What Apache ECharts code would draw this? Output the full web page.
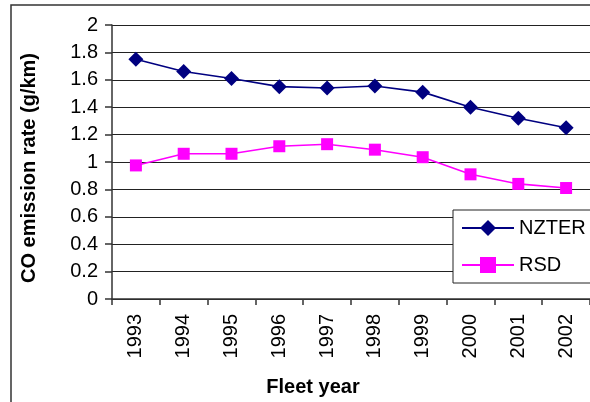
<!DOCTYPE html>
<html>
<head>
<meta charset="utf-8">
<script src="https://cdn.jsdelivr.net/npm/echarts@6/dist/echarts.min.js"></script>
<style>
  html, body { margin: 0; padding: 0; background: #fff; }
  #chart { width: 590px; height: 402px; }
</style>
</head>
<body>
<div id="chart"></div>
<script>
// Fleet years on the category axis
const years = ['1993', '1994', '1995', '1996', '1997', '1998', '1999', '2000', '2001', '2002'];
// CO emission rate (g/km) by fleet year
const nzter = [1.75, 1.66, 1.61, 1.55, 1.54, 1.555, 1.51, 1.40, 1.32, 1.25];
const rsd = [0.975, 1.06, 1.06, 1.115, 1.13, 1.09, 1.035, 0.91, 0.84, 0.81];
// Value-axis tick labels
const yTicks = ['0', '0.2', '0.4', '0.6', '0.8', '1', '1.2', '1.4', '1.6', '1.8', '2'];

const FONT = '"Liberation Sans", Arial, sans-serif';
const chart = echarts.init(document.getElementById('chart'), null, { renderer: 'canvas' });

chart.setOption({
  animation: false,
  backgroundColor: '#fff',
  textStyle: { fontFamily: FONT },
  graphic: [{
    type: 'rect',
    shape: { x: 11, y: 5, width: 620, height: 420 },
    style: { fill: 'none', stroke: '#333', lineWidth: 1.5 },
    silent: true,
    z: -1
  }],
  grid: { left: 112, top: 25, width: 482, height: 280, containLabel: false },
  legend: {
    orient: 'vertical',
    left: 453,
    top: 210,
    padding: [8, 10, 8, 8],
    itemWidth: 52,
    itemHeight: 20,
    itemGap: 17,
    backgroundColor: '#fff',
    borderColor: '#222',
    borderWidth: 1,
    textStyle: { fontFamily: FONT, fontSize: 20, color: '#000' },
    data: ['NZTER', 'RSD']
  },
  xAxis: {
    type: 'category',
    data: years,
    boundaryGap: true,
    name: 'Fleet year',
    nameLocation: 'middle',
    nameGap: 78,
    nameTextStyle: { fontFamily: FONT, fontSize: 20, fontWeight: 'bold', color: '#000', padding: [0, 76, 0, 0] },
    axisLine: { lineStyle: { color: '#333', width: 1.5 } },
    axisTick: { show: true, alignWithLabel: false, length: 6, lineStyle: { color: '#333', width: 1.5 } },
    axisLabel: { rotate: 90, fontSize: 20, color: '#000', margin: 15, fontFamily: FONT },
    splitLine: { show: false }
  },
  yAxis: {
    type: 'value',
    min: 0,
    max: 2,
    interval: 0.2,
    name: 'CO emission rate (g/km)',
    nameLocation: 'middle',
    nameGap: 73,
    nameRotate: 90,
    nameTextStyle: { fontFamily: FONT, fontSize: 20, fontWeight: 'bold', color: '#000', padding: [0, 12, 0, 0] },
    axisLine: { show: true, lineStyle: { color: '#333', width: 1.5 } },
    axisTick: { show: true, inside: false, length: 7, lineStyle: { color: '#333', width: 1.5 } },
    axisLabel: {
      fontSize: 20,
      color: '#000',
      margin: 14,
      fontFamily: FONT,
      formatter: (v) => yTicks[Math.round(v / 0.2)]
    },
    splitLine: { show: true, lineStyle: { color: '#222', width: 1 } }
  },
  series: [
    {
      name: 'NZTER',
      type: 'line',
      data: nzter,
      symbol: 'diamond',
      symbolSize: 15,
      lineStyle: { color: '#000080', width: 1.6 },
      itemStyle: { color: '#000080' },
      z: 3
    },
    {
      name: 'RSD',
      type: 'line',
      data: rsd,
      symbol: 'rect',
      symbolSize: 12,
      lineStyle: { color: '#FF00FF', width: 1.6 },
      itemStyle: { color: '#FF00FF' },
      z: 2
    }
  ]
});
</script>
</body>
</html>
